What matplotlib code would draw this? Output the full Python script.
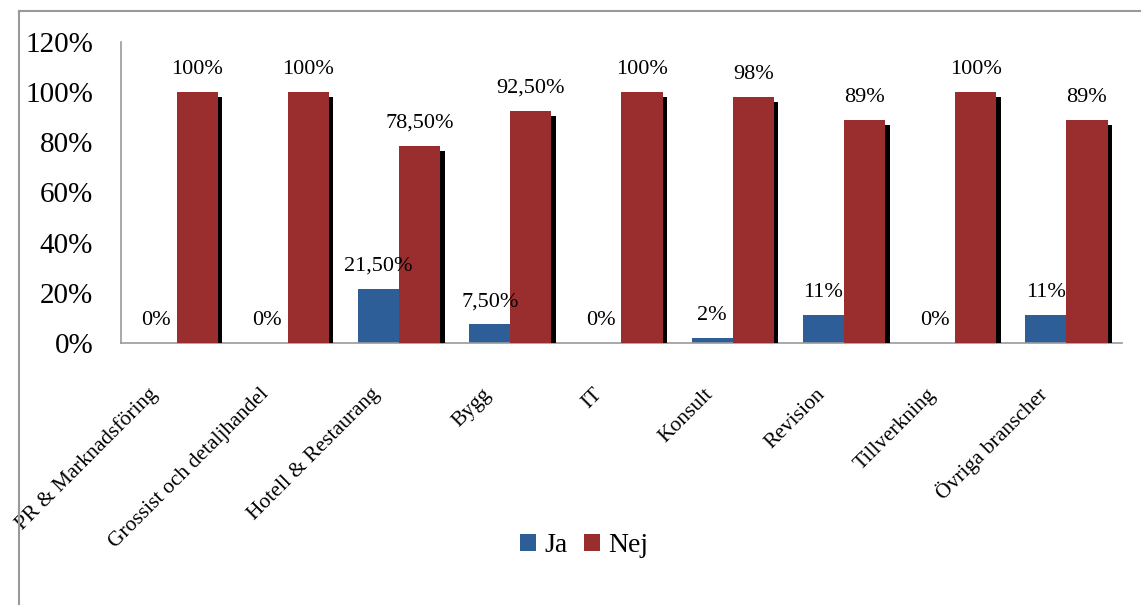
import matplotlib
matplotlib.use("Agg")
import matplotlib.pyplot as plt
import matplotlib.patheffects as pe
from matplotlib.lines import Line2D
from matplotlib.patches import Patch
from matplotlib.transforms import ScaledTranslation
import numpy as np

categories = ["PR & Marknadsföring", "Grossist och detaljhandel", "Hotell & Restaurang",
              "Bygg", "IT", "Konsult", "Revision", "Tillverkning", "Övriga branscher"]
ja = [0, 0, 21.5, 7.5, 0, 2, 11, 0, 11]
nej = [100, 100, 78.5, 92.5, 100, 98, 89, 100, 89]
series_names = ["Ja", "Nej"]
yticks = [0, 20, 40, 60, 80, 100, 120]

blue = "#2E5E98"
red = "#9A2E2E"
serif = ["Liberation Serif", "DejaVu Serif"]
plt.rcParams["font.family"] = serif

fig = plt.figure(figsize=(11.41, 6.05), dpi=100)
ax = fig.add_axes([121/1141, 1-343/605, (1122-121)/1141, (343-42)/605])

x = np.arange(len(categories))
w = 0.37
shadow = [pe.SimplePatchShadow(offset=(3.2, -3.6), shadow_rgbFace="black", alpha=1.0), pe.Normal()]
b1 = ax.bar(x - w/2, ja, w, color=blue, path_effects=shadow, zorder=2)
b2 = ax.bar(x + w/2, nej, w, color=red, path_effects=shadow, zorder=3)

def fmt(v):
    if float(v).is_integer():
        return f"{int(v)}%"
    return f"{v:.2f}".replace(".", ",") + "%"

for bars, vals in ((b1, ja), (b2, nej)):
    for r, v in zip(bars, vals):
        ax.annotate(fmt(v), (r.get_x() + r.get_width()/2, v), xytext=(0, 13),
                    textcoords="offset points", ha="center", va="baseline",
                    fontsize=16, color="black", zorder=5, annotation_clip=False)

ax.set_xlim(-0.5, len(categories) - 0.5)
ax.set_ylim(0, 120)
ax.set_yticks(yticks)
ax.set_yticklabels([f"{t}%" for t in yticks], fontsize=21)
ax.tick_params(axis="y", length=0, pad=20)
ax.set_xticks(x)
ax.set_xticklabels(categories, fontsize=15.5, rotation=45, ha="right", va="center",
                   rotation_mode="anchor")
ax.tick_params(axis="x", length=0, pad=35)
off = ScaledTranslation(-22/100, 0, fig.dpi_scale_trans)
for lab in ax.get_xticklabels():
    lab.set_transform(lab.get_transform() + off)

for s in ("top", "right"):
    ax.spines[s].set_visible(False)
for s in ("left", "bottom"):
    ax.spines[s].set_color("#999999")
    ax.spines[s].set_linewidth(1.2)

# outer chart frame (top and left edges visible)
fy = 1 - 11/605
fx = 19/1141
fig.add_artist(Line2D([fx, 1.0], [fy, fy], transform=fig.transFigure, color="#999999", lw=1.5))
fig.add_artist(Line2D([fx, fx], [0, fy], transform=fig.transFigure, color="#999999", lw=1.5))

handles = [Patch(facecolor=blue), Patch(facecolor=red)]
fig.legend(handles=handles, labels=series_names, loc="center",
           bbox_to_anchor=(584/1141, 1-546/605), ncol=2, frameon=False, fontsize=20,
           handlelength=0.58, handleheight=0.58, handletextpad=0.3, columnspacing=0.6)

fig.savefig("out.png", dpi=100)
